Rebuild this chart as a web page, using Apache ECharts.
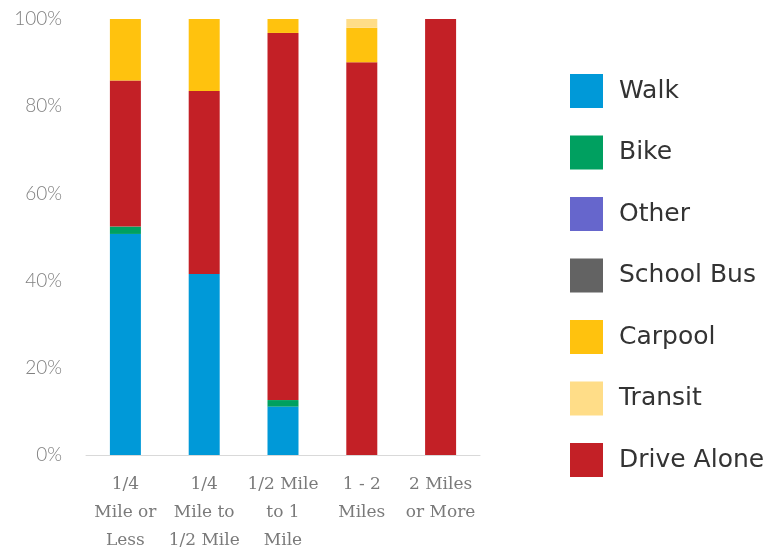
<!DOCTYPE html>
<html><head><meta charset="utf-8">
<script src="https://cdn.jsdelivr.net/npm/echarts@6/dist/echarts.min.js"></script>
<style>html,body{margin:0;padding:0;background:#fff}#c{width:771px;height:550px}</style>
</head><body><div id="c"></div>
<script>
const categories = ['1/4\nMile or\nLess', '1/4\nMile to\n1/2 Mile', '1/2 Mile\nto 1\nMile', '1 - 2\nMiles', '2 Miles\nor More'];
const walk = [50.7, 41.5, 11.1, 0, 0];
const bike = [1.7, 0, 1.5, 0, 0];
const other = [0, 0, 0, 0, 0];
const schoolBus = [0, 0, 0, 0, 0];
const driveAlone = [33.5, 42.0, 84.2, 90.1, 100];
const carpool = [14.1, 16.5, 3.2, 7.9, 0];
const transit = [0, 0, 0, 2.0, 0];
const yTicks = [0, 20, 40, 60, 80, 100];
const legendOrder = ['Walk', 'Bike', 'Other', 'School Bus', 'Carpool', 'Transit', 'Drive Alone'];

const colors = {
  'Walk': '#0099D8', 'Bike': '#00A060', 'Other': '#6666CC', 'School Bus': '#636363',
  'Carpool': '#FFC20E', 'Transit': '#FFDD88', 'Drive Alone': '#C32026'
};
const stackSeries = [
  ['Walk', walk], ['Bike', bike], ['Other', other], ['School Bus', schoolBus],
  ['Drive Alone', driveAlone], ['Carpool', carpool], ['Transit', transit]
];
const chart = echarts.init(document.getElementById('c'));
chart.setOption({
  animation: false,
  grid: { left: 86, right: 291, top: 19, bottom: 95, containLabel: false, outerBoundsMode: 'none' },
  legend: {
    orient: 'vertical', left: 565, top: 69,
    data: legendOrder,
    itemWidth: 33, itemHeight: 34, itemGap: 27.5,
    icon: 'rect',
    textStyle: { fontFamily: 'DejaVu Sans', fontSize: 25, color: '#333', padding: [0, 0, 0, 11] }
  },
  xAxis: {
    type: 'category', data: categories,
    axisLine: { lineStyle: { color: '#d9d9d9', width: 1 } },
    axisTick: { show: false },
    axisLabel: { fontFamily: 'DejaVu Serif', fontSize: 17, color: '#7a7a7a', lineHeight: 28, margin: 16, interval: 0 }
  },
  yAxis: {
    type: 'value', min: 0, max: 100, interval: 20,
    axisLine: { show: false }, axisTick: { show: false }, splitLine: { show: false },
    axisLabel: { fontFamily: 'Lato', fontWeight: 300, fontSize: 19, color: '#808080', margin: 24,
      formatter: v => yTicks.includes(v) ? v + '%' : '' }
  },
  series: stackSeries.map(([name, data]) => ({
    name, type: 'bar', stack: 'total', data, barWidth: 31,
    itemStyle: { color: colors[name] }
  }))
});
</script></body></html>
